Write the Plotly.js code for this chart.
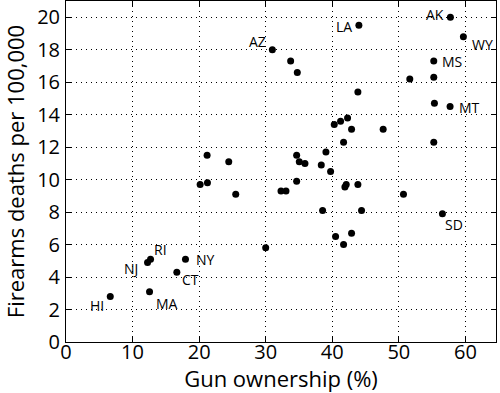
<!DOCTYPE html>
<html>
<head>
<meta charset="utf-8">
<script src="https://cdn.plot.ly/plotly-3.0.1.min.js"></script>
<style>html,body{margin:0;padding:0;background:#fff;}#chart{width:500px;height:393px;}</style>
</head>
<body>
<div id="chart"></div>
<script>
// Gun ownership (%) and firearm deaths per 100,000, by state
const ownership = [31.0, 21.2, 24.45, 33.75, 34.75, 44.0, 57.75, 59.7, 55.25, 51.65,
  55.25, 43.85, 55.35, 57.7, 42.3, 41.25, 40.3, 42.9, 47.65, 41.7,
  55.25, 34.65, 35.05, 35.9, 38.35, 39.05, 39.75, 34.65, 20.15, 21.25,
  25.5, 30.0, 12.7, 12.25, 17.95, 16.65, 12.55, 6.65, 32.3, 33.05,
  41.9, 42.1, 43.85, 50.7, 38.55, 44.4, 56.55, 40.5, 42.9, 41.7];
const deaths = [18.0, 11.5, 11.1, 17.3, 16.6, 19.5, 20.0, 18.8, 17.3, 16.2,
  16.3, 15.4, 14.7, 14.5, 13.8, 13.6, 13.4, 13.1, 13.1, 12.3,
  12.3, 11.5, 11.1, 11.0, 10.9, 11.7, 10.5, 9.9, 9.7, 9.8,
  9.1, 5.8, 5.1, 4.9, 5.1, 4.3, 3.1, 2.8, 9.3, 9.3,
  9.55, 9.7, 9.7, 9.1, 8.1, 8.1, 7.9, 6.5, 6.7, 6.0];
const labels = ["AZ", "", "", "", "", "LA", "AK", "WY", "MS", "",
  "", "", "", "MT", "", "", "", "", "", "",
  "", "", "", "", "", "", "", "", "", "",
  "", "", "RI", "NJ", "NY", "CT", "MA", "HI", "", "",
  "", "", "", "", "", "", "SD", "", "", ""];
const xTicks = [0, 10, 20, 30, 40, 50, 60];
const yTicks = [0, 2, 4, 6, 8, 10, 12, 14, 16, 18, 20];

// label placement (pixels relative to the point)
const labelPos = {
  AZ: {xa: "right", dx: -4, dy: 8},
  LA: {xa: "right", dx: -5, dy: -1},
  AK: {xa: "right", dx: -4, dy: 3},
  WY: {xa: "left", dx: 7, dy: -8},
  MS: {xa: "left", dx: 6, dy: 0},
  MT: {xa: "left", dx: 7, dy: -1},
  SD: {xa: "left", dx: 1, dy: -11},
  RI: {xa: "left", dx: 1, dy: 10},
  NJ: {xa: "right", dx: -8, dy: -6},
  NY: {xa: "left", dx: 9, dy: 0},
  CT: {xa: "left", dx: 3, dy: -7},
  MA: {xa: "left", dx: 4, dy: -12},
  HI: {xa: "right", dx: -4, dy: -9}
};

const font = "Open Sans, Noto Sans, sans-serif";
const annotations = [];
labels.forEach((t, i) => {
  if (!t) return;
  const p = labelPos[t];
  annotations.push({
    x: ownership[i], y: deaths[i], xref: "x", yref: "y", text: t,
    showarrow: false, xanchor: p.xa, yanchor: "middle",
    xshift: p.dx, yshift: p.dy,
    font: {family: font, size: 14, color: "#000000"}
  });
});

const trace = {
  x: ownership, y: deaths, type: "scatter", mode: "markers",
  marker: {color: "#000", size: 7}, hoverinfo: "skip"
};

const axisCommon = {
  showline: true, linecolor: "#000", linewidth: 1, mirror: "ticks",
  ticks: "inside", ticklen: 5, tickcolor: "#000", tickwidth: 1,
  showgrid: true, gridcolor: "#000", griddash: "1px,4px", gridwidth: 1,
  zeroline: false, tickfont: {family: font, size: 20, color: "#000"}
};

const layout = {
  template: {},
  width: 500, height: 393,
  margin: {l: 66, r: 4, t: 1, b: 51},
  paper_bgcolor: "#fff", plot_bgcolor: "#fff",
  font: {family: font, color: "#000000"},
  showlegend: false,
  xaxis: Object.assign({}, axisCommon, {
    range: [0, 64.6], tickvals: xTicks, ticktext: xTicks.map(String),
    ticklabelstandoff: -8,
    title: {text: "Gun ownership (%)", font: {family: font, size: 22, color: "#000"}, standoff: 0}
  }),
  yaxis: Object.assign({}, axisCommon, {
    range: [0, 21], tickvals: yTicks, ticktext: yTicks.map(String),
    ticklabelstandoff: 1,
    title: {text: "Firearms deaths per 100,000", font: {family: font, size: 22, color: "#000"}, standoff: 8}
  }),
  annotations: annotations
};

Plotly.newPlot("chart", [trace], layout, {staticPlot: true, displayModeBar: false});
</script>
</body>
</html>
